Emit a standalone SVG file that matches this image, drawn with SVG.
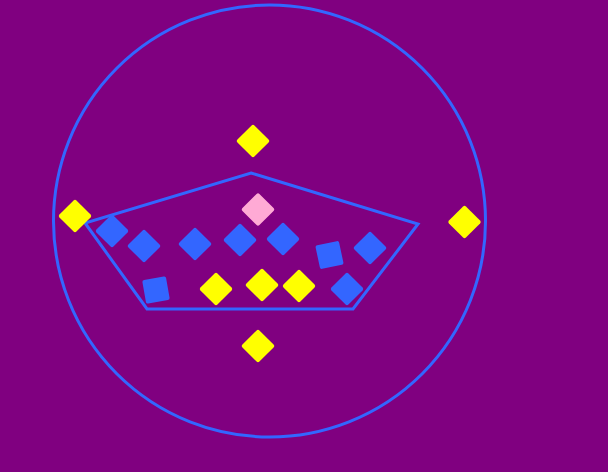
<svg xmlns="http://www.w3.org/2000/svg" xmlns:xlink="http://www.w3.org/1999/xlink" width="608" height="472" viewBox="0 0 608 472">
<style>
.ln{fill:none;stroke:#3366ff;stroke-width:3}
.y{fill:#ffff00}
.b{fill:#3366ff}
.p{fill:#ffaad5}
</style>
<defs>
<rect id="sq" x="-12" y="-12" width="24" height="24" rx="2"/>
</defs>
<rect width="608" height="472" fill="#800080"/>
<g id="connectors">
<circle class="ln" cx="269.5" cy="221" r="216"/>
<polygon class="ln" points="251,173 418,224 353,309 147,309 85,223"/>
</g>
<g id="n-y-top"><use href="#sq" class="y" transform="translate(253,141) rotate(45)"/></g>
<g id="n-y-left"><use href="#sq" class="y" transform="translate(75,216) rotate(45)"/></g>
<g id="n-y-right"><use href="#sq" class="y" transform="translate(464.5,222) rotate(45)"/></g>
<g id="n-y-bottom"><use href="#sq" class="y" transform="translate(258,346) rotate(45)"/></g>
<g id="n-y1"><use href="#sq" class="y" transform="translate(216,289) rotate(45)"/></g>
<g id="n-y2"><use href="#sq" class="y" transform="translate(262,285) rotate(45)"/></g>
<g id="n-y3"><use href="#sq" class="y" transform="translate(299,286) rotate(45)"/></g>
<g id="n-pink"><use href="#sq" class="p" transform="translate(258,209.5) rotate(45)"/></g>
<g id="n-b1"><use href="#sq" class="b" transform="translate(112,231) rotate(45)"/></g>
<g id="n-b2"><use href="#sq" class="b" transform="translate(144,246) rotate(45)"/></g>
<g id="n-b3"><use href="#sq" class="b" transform="translate(195,244) rotate(45)"/></g>
<g id="n-b4"><use href="#sq" class="b" transform="translate(240,240) rotate(45)"/></g>
<g id="n-b5"><use href="#sq" class="b" transform="translate(283,239) rotate(45)"/></g>
<g id="n-b6"><use href="#sq" class="b" transform="translate(370,248) rotate(45)"/></g>
<g id="n-b7"><use href="#sq" class="b" transform="translate(347,289) rotate(45)"/></g>
<g id="n-b8"><use href="#sq" class="b" transform="translate(156,290) rotate(-10)"/></g>
<g id="n-b9"><use href="#sq" class="b" transform="translate(329.5,255) rotate(-12)"/></g>
</svg>
